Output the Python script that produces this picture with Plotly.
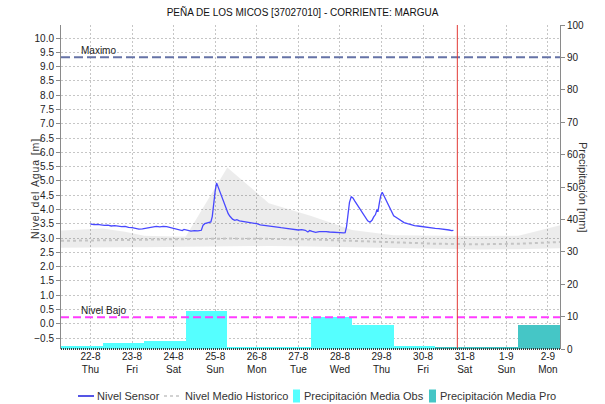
import pandas as pd
import plotly.graph_objects as go

# ---- data -----------------------------------------------------------------
origin = pd.Timestamp("2019-08-22 00:00")

# water level reported by the sensor (hours after 22-8 00:00, metres)
sensor_hours = [0, 2, 4, 6, 8, 10, 12, 14, 16, 18, 20, 22, 24, 26, 28, 30, 32, 34, 36, 38,
                40, 42, 44, 46, 48, 50, 52, 53, 54, 56, 58, 60, 62, 64, 65, 66, 68, 69.5,
                70.3, 71, 72, 72.8, 73.5, 74.5, 75.5, 76.6, 78, 79.5, 80.5, 82, 83.3, 84.5,
                86, 88, 90, 92, 94, 96, 98, 100, 101.7, 104, 106, 108, 110, 113, 116, 118,
                120, 122, 124, 125.5, 126.5, 128, 130, 132, 134, 136, 138, 140, 142, 144,
                146, 147, 147.8, 148.5, 149.5, 150.5, 151.5, 152.5, 154, 155.5, 157, 158.5,
                160, 161.3, 162.5, 163.5, 164.5, 165.3, 166, 166.8, 167.6, 168.4, 169.3,
                170.5, 172, 173.5, 175, 177, 179, 181, 183, 185, 187, 189, 191, 193, 195,
                197, 199, 201, 203, 205, 207, 208.5, 209.5]
sensor_level = [3.49, 3.47, 3.48, 3.45, 3.44, 3.45, 3.42, 3.43, 3.41, 3.40, 3.41, 3.37, 3.36,
                3.34, 3.31, 3.32, 3.34, 3.37, 3.40, 3.41, 3.39, 3.41, 3.40, 3.37, 3.33, 3.31,
                3.29, 3.26, 3.30, 3.27, 3.24, 3.26, 3.25, 3.27, 3.45, 3.50, 3.52, 3.56,
                3.75, 4.20, 4.65, 4.93, 4.82, 4.62, 4.45, 4.32, 4.05, 3.85, 3.76, 3.66, 3.62,
                3.64, 3.60, 3.58, 3.57, 3.56, 3.52, 3.50, 3.46, 3.44, 3.42, 3.40, 3.39, 3.38,
                3.36, 3.34, 3.31, 3.30, 3.28, 3.29, 3.27, 3.21, 3.26, 3.23, 3.20, 3.22, 3.23,
                3.22, 3.21, 3.21, 3.20, 3.19, 3.18, 3.19, 3.40, 3.85, 4.25, 4.44, 4.40, 4.30,
                4.15, 4.02, 3.88, 3.72, 3.60, 3.55, 3.62, 3.74, 3.82, 3.98, 3.95, 4.25, 4.50,
                4.60, 4.48, 4.35, 4.12, 3.92, 3.78, 3.70, 3.62, 3.54, 3.50, 3.46, 3.43, 3.42,
                3.40, 3.38, 3.37, 3.35, 3.34, 3.33, 3.32, 3.30, 3.28, 3.26, 3.27]

# historic level envelope and mean (hours after 22-8 00:00, metres)
hist_band_hours = [-17, -7, 7, 20, 31, 48, 55, 79, 103, 127, 151, 175, 199, 223, 247, 271]
hist_max = [3.26, 3.30, 3.33, 3.22, 3.08, 3.05, 3.05, 5.47, 4.22, 3.78, 3.28, 3.10, 3.08,
            3.07, 3.08, 3.45]
hist_min = [2.66, 2.67, 2.67, 2.68, 2.68, 2.69, 2.70, 2.72, 2.72, 2.70, 2.67, 2.64, 2.62,
            2.60, 2.61, 2.64]
hist_mean = [2.90, 2.91, 2.92, 2.92, 2.93, 2.94, 2.95, 2.98, 2.97, 2.95, 2.90, 2.85, 2.80,
             2.78, 2.80, 2.86]

# daily rainfall (24 h ending 07:00 of each day, mm)
obs_days = ["2019-08-22", "2019-08-23", "2019-08-24", "2019-08-25", "2019-08-26",
            "2019-08-27", "2019-08-28", "2019-08-29", "2019-08-30"]
obs_mm = [0.8, 1.8, 2.5, 11.6, 0.7, 0.7, 9.9, 7.5, 0.8]
pro_days = ["2019-08-31", "2019-09-01", "2019-09-02"]
pro_mm = [0.5, 0.5, 7.3]

# reference levels
level_max = 9.33
level_low = 0.23
now_mark = "2019-08-30 19:45"

# axis ticks
tick_days = ["2019-08-22", "2019-08-23", "2019-08-24", "2019-08-25", "2019-08-26",
             "2019-08-27", "2019-08-28", "2019-08-29", "2019-08-30", "2019-08-31",
             "2019-09-01", "2019-09-02"]
tick_text = ["22-8<br>Thu", "23-8<br>Fri", "24-8<br>Sat", "25-8<br>Sun", "26-8<br>Mon",
             "27-8<br>Tue", "28-8<br>Wed", "29-8<br>Thu", "30-8<br>Fri", "31-8<br>Sat",
             "1-9<br>Sun", "2-9<br>Mon"]
level_ticks = [-0.5, 0.0, 0.5, 1.0, 1.5, 2.0, 2.5, 3.0, 3.5, 4.0, 4.5, 5.0, 5.5, 6.0,
               6.5, 7.0, 7.5, 8.0, 8.5, 9.0, 9.5, 10.0]
x_start, x_end = "2019-08-21 07:00", "2019-09-02 07:00"

# legend entries: label, kind, colour
legend_items = [("Nivel Sensor", "line", "#1c1cdc"),
                ("Nivel Medio Historico", "dots", "#c4c4c4"),
                ("Precipitación Media Obs", "box", "#55FFFF"),
                ("Precipitación Media Pro", "box", "#45C6C6")]

level_title = "Nivel del Agua [m]"
rain_title = "Precipitación [mm]"

# ---- layout geometry (pixels) -------------------------------------------------
W, H = 605, 404
PL, PR, PT, PB = 61, 560, 25, 349

def px(x):
    return (x - PL) / (PR - PL)

def py(y):
    return (PB - y) / (PB - PT)

def at_hours(hours):
    return [origin + pd.Timedelta(hours=h) for h in hours]

def bar_centres(days):
    # each bar covers the 24 h ending at 07:00 of the given day
    return [pd.Timestamp(d) + pd.Timedelta(hours=7) - pd.Timedelta(hours=12) for d in days]

def spaced(text):
    # open up the letter spacing with hair spaces
    return "\u200a".join(text)

DAY_MS = 24 * 3600 * 1000
FONT = "Liberation Sans, Arial, sans-serif"
GRID = "#c6c6c6"

fig = go.Figure()

# rainfall bars on the right-hand axis
fig.add_trace(go.Bar(x=bar_centres(obs_days), y=obs_mm, width=[DAY_MS] * len(obs_mm),
                     marker=dict(color=legend_items[2][2], line=dict(width=0)),
                     name=legend_items[2][0], yaxis="y"))
fig.add_trace(go.Bar(x=bar_centres(pro_days), y=pro_mm, width=[DAY_MS] * len(pro_mm),
                     marker=dict(color=legend_items[3][2], line=dict(width=0)),
                     name=legend_items[3][0], yaxis="y"))

# historic envelope
band_x = at_hours(hist_band_hours)
fig.add_trace(go.Scatter(x=band_x, y=hist_max, mode="lines", line=dict(width=0),
                         hoverinfo="skip", yaxis="y2"))
fig.add_trace(go.Scatter(x=band_x, y=hist_min, mode="lines", line=dict(width=0),
                         fill="tonexty", fillcolor="rgba(0,0,0,0.075)",
                         hoverinfo="skip", yaxis="y2"))
fig.add_trace(go.Scatter(x=band_x, y=hist_mean, mode="lines",
                         line=dict(color="#c4c4c4", width=2, dash="3px,3px"),
                         name=legend_items[1][0], yaxis="y2"))

# sensor level
fig.add_trace(go.Scatter(x=at_hours(sensor_hours), y=sensor_level, mode="lines",
                         line=dict(color="#4848ff", width=1.3),
                         name=legend_items[0][0], yaxis="y2"))

# reference lines
fig.add_shape(type="line", xref="paper", x0=0, x1=1, yref="y2", y0=level_max, y1=level_max,
              line=dict(color="#6673a6", width=2, dash="9px,4px"))
fig.add_shape(type="line", xref="paper", x0=0, x1=1, yref="y2", y0=level_low, y1=level_low,
              line=dict(color="#ff3cff", width=2, dash="8px,4px"))
fig.add_shape(type="line", xref="x", x0=now_mark, x1=now_mark, yref="paper", y0=0, y1=1,
              line=dict(color="#e23a36", width=1))
# dotted base line of the time axis
fig.add_shape(type="line", xref="paper", x0=0, x1=1, yref="paper", y0=0, y1=0,
              line=dict(color="#3a3a3a", width=2, dash="1px,1px"))

fig.add_annotation(text="Maximo", xref="paper", x=px(80), xanchor="left",
                   yref="y2", y=level_max, yanchor="bottom", showarrow=False,
                   font=dict(family=FONT, size=10, color="#222"), borderpad=0)
fig.add_annotation(text="Nivel Bajo", xref="paper", x=px(80), xanchor="left",
                   yref="y2", y=level_low, yanchor="bottom", showarrow=False,
                   font=dict(family=FONT, size=10, color="#222"), borderpad=0)

# axis titles
fig.add_annotation(text=spaced(level_title), xref="paper", x=px(27), yref="paper",
                   y=py(189), textangle=-90, showarrow=False,
                   font=dict(family=FONT, size=10.5, color="#333"))
fig.add_annotation(text=rain_title, xref="paper", x=px(591), yref="paper",
                   y=py(187), textangle=90, showarrow=False,
                   font=dict(family=FONT, size=11, color="#333"))

# legend row drawn below the time axis
legend_y = 396
legend_slots = [(78, 94, 96), (164, 180, 184), (293, 300, 303), (429, 436, 439)]
for (label, kind, colour), (s0, s1, tx) in zip(legend_items, legend_slots):
    if kind == "line":
        fig.add_shape(type="line", xref="paper", yref="paper", x0=px(s0), x1=px(s1),
                      y0=py(legend_y), y1=py(legend_y), line=dict(color=colour, width=1.5))
    elif kind == "dots":
        fig.add_shape(type="line", xref="paper", yref="paper", x0=px(s0), x1=px(s1),
                      y0=py(legend_y), y1=py(legend_y),
                      line=dict(color=colour, width=1.5, dash="3px,3px"))
    else:
        fig.add_shape(type="rect", xref="paper", yref="paper", x0=px(s0), x1=px(s1),
                      y0=py(legend_y + 6.5), y1=py(legend_y - 6.5),
                      line=dict(width=0), fillcolor=colour)
    fig.add_annotation(text=label, xref="paper", x=px(tx), xanchor="left",
                       yref="paper", y=py(legend_y), yanchor="middle", showarrow=False,
                       font=dict(family=FONT, size=11, color="#333"), borderpad=0)

fig.update_layout(
    width=W, height=H,
    margin=dict(l=PL, r=W - PR, t=PT, b=H - PB, autoexpand=False),
    paper_bgcolor="white", plot_bgcolor="white",
    barmode="overlay", bargap=0, showlegend=False,
    title=dict(text="PEÑA DE LOS MICOS [37027010] - CORRIENTE: MARGUA",
               x=0.5, xanchor="center", y=1 - 12 / H, yanchor="middle",
               font=dict(family=FONT, size=10, color="#111")),
    font=dict(family=FONT, size=10, color="#333"),
    xaxis=dict(type="date", range=[x_start, x_end], tickvals=tick_days, ticktext=tick_text,
               showgrid=True, gridcolor=GRID, griddash="2px,2px", gridwidth=1,
               ticks="", showline=False, zeroline=False,
               tickfont=dict(family=FONT, size=10, color="#222")),
    yaxis=dict(side="right", range=[0, 100], dtick=10, tick0=0, showgrid=False,
               zeroline=False, showline=True, linecolor="#8a8a8a", linewidth=1,
               ticks="outside", ticklen=4, tickcolor="#8a8a8a",
               tickfont=dict(family=FONT, size=10, color="#222")),
    yaxis2=dict(side="left", overlaying="y", anchor="x", range=[-0.885, 10.455],
                tickvals=level_ticks, tickformat=".1f", showgrid=True, gridcolor=GRID,
                griddash="2px,2px", gridwidth=1, zeroline=False, showline=True,
                linecolor="#8a8a8a", linewidth=1, ticks="outside", ticklen=4,
                tickcolor="#8a8a8a", tickfont=dict(family=FONT, size=10, color="#222")),
)

fig.write_html("out.html")
